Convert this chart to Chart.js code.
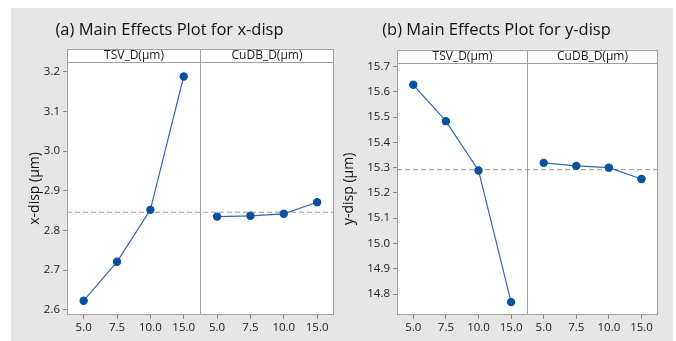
<!DOCTYPE html>
<html>
<head>
<meta charset="utf-8">
<script src="https://cdn.jsdelivr.net/npm/chart.js@4/dist/chart.umd.min.js"></script>
<style>
  body { margin: 0; background: #fff; font-family: "Open Sans", sans-serif; }
  #panel { position: absolute; left: 11px; top: 8px; width: 662px; height: 333px; background: #e6e6e6; }
  canvas { position: absolute; top: 8px; }
</style>
</head>
<body>
<div id="panel"></div>
<canvas id="figX" width="339" height="333" style="left:0px"></canvas>
<canvas id="figY" width="333" height="333" style="left:330px"></canvas>
<script>
const levels = ['5.0', '7.5', '10.0', '15.0'];
const factors = ['TSV_D(µm)', 'CuDB_D(µm)'];

// x-disp level means (µm)
const xdispTsv = [2.623, 2.721, 2.852, 3.188];
const xdispCudb = [2.835, 2.837, 2.842, 2.871];
const xdispTicks = [2.6, 2.7, 2.8, 2.9, 3.0, 3.1, 3.2];

// y-disp level means (µm)
const ydispTsv = [15.628, 15.484, 15.289, 14.768];
const ydispCudb = [15.319, 15.307, 15.300, 15.255];
const ydispTicks = [14.8, 14.9, 15.0, 15.1, 15.2, 15.3, 15.4, 15.5, 15.6, 15.7];

const FONT = '"Open Sans", sans-serif';
const FRAME = '#a0a0a0';
const HEADER_H = 13;

// white plot area, outer frame, panel divider and factor header strip
const panelFrame = {
  id: 'panelFrame',
  beforeDraw(chart) {
    const { ctx, chartArea: a } = chart;
    ctx.save();
    ctx.fillStyle = '#fff';
    ctx.fillRect(a.left, a.top - HEADER_H, a.right - a.left, a.bottom - a.top + HEADER_H);
    ctx.restore();
  },
  beforeDatasetsDraw(chart) {
    const { ctx, chartArea: a, scales: { x } } = chart;
    const mid = Math.round(x.getPixelForValue(3.5)) + 0.5;
    const L = Math.round(a.left) + 0.5, R = Math.round(a.right) - 0.5;
    const T = Math.round(a.top) + 0.5, B = Math.round(a.bottom) - 0.5;
    const H = T - HEADER_H;
    ctx.save();
    ctx.strokeStyle = FRAME;
    ctx.lineWidth = 1;
    ctx.strokeRect(L, H, R - L, B - H);
    ctx.beginPath();
    ctx.moveTo(L, T); ctx.lineTo(R, T);
    ctx.moveTo(mid, H); ctx.lineTo(mid, B);
    ctx.stroke();
    ctx.fillStyle = '#1a1a1a';
    ctx.font = '12px ' + FONT;
    ctx.textAlign = 'center';
    ctx.textBaseline = 'middle';
    ctx.fillText(factors[0], (L + mid) / 2, H + HEADER_H / 2);
    ctx.fillText(factors[1], (mid + R) / 2, H + HEADER_H / 2);
    ctx.restore();
  }
};

function mainEffects(id, title, yTitle, tsv, cudb, yMin, yMax, yTicks, box) {
  const grandMean = tsv.reduce((s, v) => s + v, 0) / tsv.length;
  return new Chart(document.getElementById(id), {
    type: 'line',
    data: {
      datasets: [
        {
          data: tsv.map((v, i) => ({ x: i, y: v })),
          borderColor: '#2f68b4', borderWidth: 1.2,
          pointBackgroundColor: '#0b4f9e', pointBorderColor: '#0b4f9e',
          pointRadius: 3.6, order: 1
        },
        {
          data: cudb.map((v, i) => ({ x: i + 4, y: v })),
          borderColor: '#2f68b4', borderWidth: 1.2,
          pointBackgroundColor: '#0b4f9e', pointBorderColor: '#0b4f9e',
          pointRadius: 3.6, order: 1
        },
        {
          data: [{ x: -0.5, y: grandMean }, { x: 7.5, y: grandMean }],
          borderColor: '#9a9a9a', borderWidth: 1, borderDash: [5, 3],
          pointRadius: 0, order: 3
        }
      ]
    },
    options: {
      responsive: false,
      animation: false,
      layout: { padding: { left: 0, right: box.right, top: 0, bottom: 0 } },
      plugins: {
        legend: { display: false },
        tooltip: { enabled: false },
        title: {
          display: true, text: title, color: '#111',
          font: { family: FONT, size: 16.5, weight: 'normal' },
          padding: { top: 12, bottom: box.titleBottom }
        }
      },
      scales: {
        x: {
          type: 'linear', min: -0.5, max: 7.5,
          afterBuildTicks: s => { s.ticks = [0, 1, 2, 3, 4, 5, 6, 7].map(v => ({ value: v })); },
          afterFit: s => { s.height = 26; },
          ticks: {
            autoSkip: false, maxRotation: 0, padding: 2,
            color: '#1a1a1a', font: { family: FONT, size: 11.5 },
            callback: v => levels[v % 4]
          },
          grid: { drawOnChartArea: false, tickLength: 4, color: '#888' },
          border: { display: false }
        },
        y: {
          min: yMin, max: yMax,
          afterBuildTicks: s => { s.ticks = yTicks.map(v => ({ value: v })); },
          afterFit: s => { s.width = box.left; },
          ticks: {
            padding: 3, color: '#1a1a1a', font: { family: FONT, size: 11.5 },
            callback: v => v.toFixed(1)
          },
          grid: { drawOnChartArea: false, tickLength: 4, color: '#888' },
          border: { display: false },
          title: {
            display: true, text: yTitle, color: '#111',
            font: { family: FONT, size: 14 },
            padding: { top: box.titlePad, bottom: 0 }
          }
        }
      }
    },
    plugins: [panelFrame]
  });
}

mainEffects('figX', '(a) Main Effects Plot for x-disp', 'x-disp (µm)',
  xdispTsv, xdispCudb, 2.587, 3.225, xdispTicks,
  { left: 67, right: 0, titleBottom: 22, titlePad: 26.6 });

mainEffects('figY', '(b) Main Effects Plot for y-disp', 'y-disp (µm)',
  ydispTsv, ydispCudb, 14.717, 15.715, ydispTicks,
  { left: 67, right: 0, titleBottom: 23, titlePad: 10.6 });
</script>
</body>
</html>
